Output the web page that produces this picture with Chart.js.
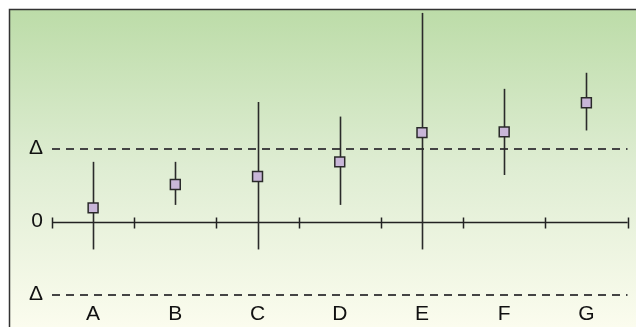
<!DOCTYPE html>
<html>
<head>
<meta charset="utf-8">
<script src="https://cdn.jsdelivr.net/npm/chart.js@4/dist/chart.umd.min.js"></script>
<style>
  html, body { margin: 0; padding: 0; background: #fff; }
  canvas { display: block; }
</style>
</head>
<body>
<canvas id="grafico" width="636" height="327"></canvas>
<script>
// categorias e valores (em unidades de Δ)
const categorias = ['A', 'B', 'C', 'D', 'E', 'F', 'G'];
const medias = [0.19, 0.51, 0.62, 0.82, 1.22, 1.23, 1.63];
const limiteSup = [0.82, 0.82, 1.64, 1.44, 2.86, 1.82, 2.04];
const limiteInf = [-0.38, 0.23, -0.38, 0.23, -0.38, 0.64, 1.25];
const yTickValores = [-1, 0, 1];
const yTickRotulos = ['Δ', '0', 'Δ'];
const linhasTracejadas = [-1, 1];

const fonte = '"Liberation Sans", Arial, sans-serif';

// fundo em degradê + moldura
const fundoPlugin = {
    id: 'fundo',
    beforeDraw(chart) {
        const { ctx, width, height } = chart;
        ctx.save();
        const g = ctx.createLinearGradient(0, 9, 0, height);
        g.addColorStop(0, '#bcdca8');
        g.addColorStop(0.5, '#dfedd3');
        g.addColorStop(1, '#fbfcee');
        ctx.fillStyle = g;
        ctx.fillRect(9, 9, width - 9, height - 9);
        ctx.strokeStyle = '#333';
        ctx.lineWidth = 1.5;
        ctx.beginPath();
        ctx.moveTo(9.5, height);
        ctx.lineTo(9.5, 9.5);
        ctx.lineTo(width, 9.5);
        ctx.stroke();
        ctx.restore();
    }
};

// eixo zero, linhas tracejadas e barras de erro
const eixosPlugin = {
    id: 'eixos',
    beforeDatasetsDraw(chart) {
        const { ctx, chartArea } = chart;
        const x = chart.scales.x;
        const y = chart.scales.y;
        ctx.save();

        // linhas ±Δ
        ctx.strokeStyle = '#444';
        ctx.lineWidth = 2;
        ctx.setLineDash([8, 6]);
        linhasTracejadas.forEach(v => {
            const py = Math.round(y.getPixelForValue(v));
            ctx.beginPath();
            ctx.moveTo(chartArea.left, py);
            ctx.lineTo(chartArea.right, py);
            ctx.stroke();
        });
        ctx.setLineDash([]);

        // eixo zero com marcas
        const y0 = Math.round(y.getPixelForValue(0)) + 0.5;
        ctx.strokeStyle = '#222';
        ctx.lineWidth = 1.5;
        ctx.beginPath();
        ctx.moveTo(chartArea.left, y0);
        ctx.lineTo(chartArea.right, y0);
        const passo = (chartArea.right - chartArea.left) / categorias.length;
        for (let i = 0; i <= categorias.length; i++) {
            const px = Math.round(chartArea.left + i * passo) + 0.5;
            ctx.moveTo(px, y0 - 5);
            ctx.lineTo(px, y0 + 6);
        }
        ctx.stroke();

        // barras de erro
        ctx.strokeStyle = '#2a2a2a';
        ctx.lineWidth = 1.6;
        categorias.forEach((c, i) => {
            const px = Math.round(x.getPixelForValue(i)) + 0.5;
            ctx.beginPath();
            ctx.moveTo(px, y.getPixelForValue(limiteSup[i]));
            ctx.lineTo(px, y.getPixelForValue(limiteInf[i]));
            ctx.stroke();
        });
        ctx.restore();
    }
};

new Chart(document.getElementById('grafico'), {
    type: 'line',
    data: {
        labels: categorias,
        datasets: [{
            data: medias,
            showLine: false,
            pointStyle: 'rect',
            pointRadius: 7,
            pointBackgroundColor: '#c8b6d8',
            pointBorderColor: '#2a2a2a',
            pointBorderWidth: 1.5
        }]
    },
    options: {
        responsive: false,
        animation: false,
        layout: { padding: { left: 0, right: 8, top: 10, bottom: 0 } },
        plugins: {
            legend: { display: false },
            tooltip: { enabled: false }
        },
        scales: {
            x: {
                offset: true,
                grid: { display: false, drawTicks: false },
                border: { display: false },
                ticks: { color: '#111', font: { family: fonte, size: 21, lineHeight: 1 }, padding: 2 },
                afterFit: s => { s.height = 25; s.paddingLeft = 0; s.paddingRight = 0; }
            },
            y: {
                min: -1.1,
                max: 2.9,
                grid: { display: false, drawTicks: false },
                border: { display: false },
                afterBuildTicks: s => { s.ticks = yTickValores.map(v => ({ value: v })); },
                ticks: {
                    color: '#111',
                    font: { family: fonte, size: 21, lineHeight: 1 },
                    padding: 9,
                    callback: v => yTickRotulos[yTickValores.indexOf(v)]
                },
                afterFit: s => { s.width = 52; s.paddingTop = 0; s.paddingBottom = 0; }
            }
        }
    },
    plugins: [fundoPlugin, eixosPlugin]
});
</script>
</body>
</html>
